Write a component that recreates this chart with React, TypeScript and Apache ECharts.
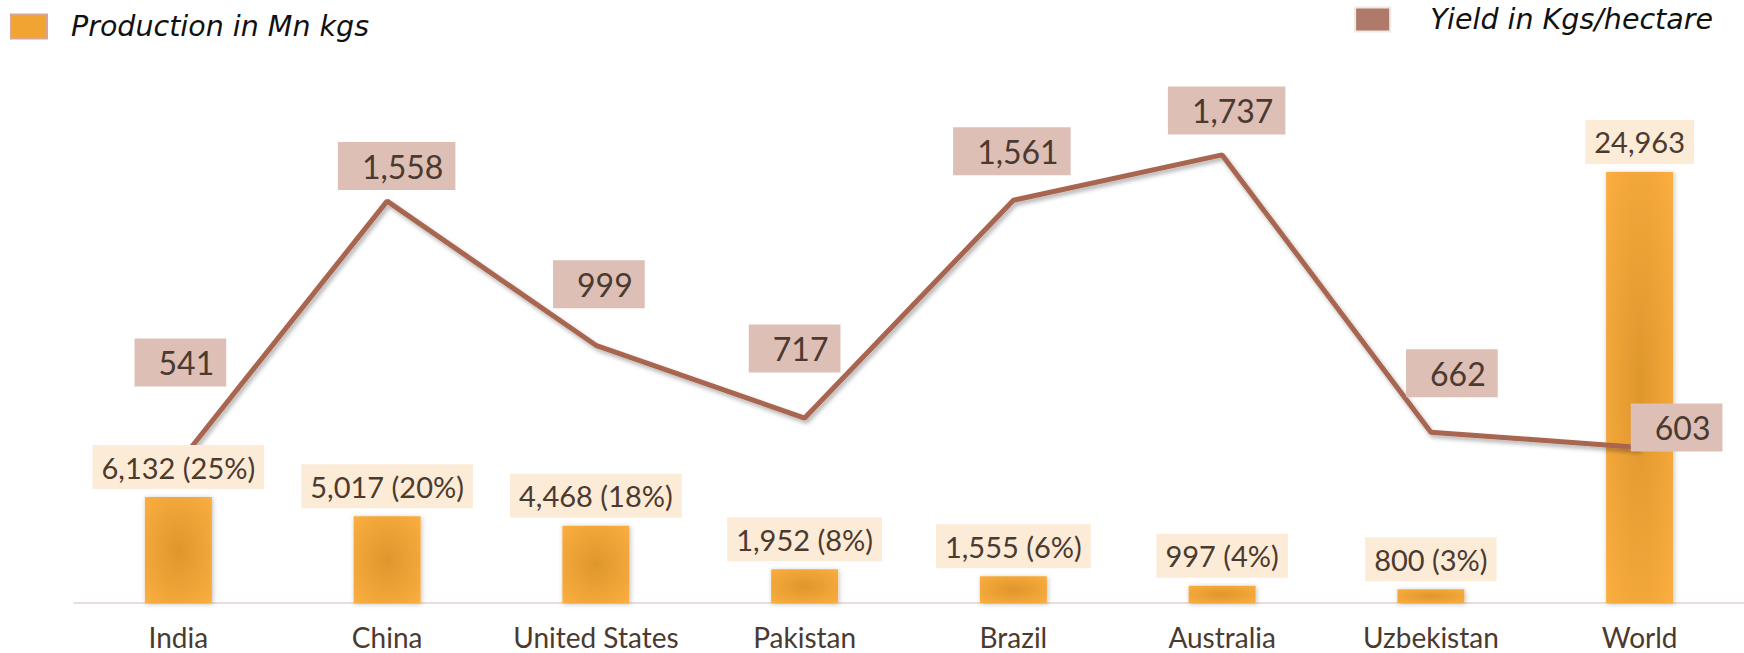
import React, { useEffect, useRef } from "react";
import * as echarts from "echarts";

const categories = ["India", "China", "United States", "Pakistan", "Brazil", "Australia", "Uzbekistan", "World"];
const production = [6132, 5017, 4468, 1952, 1555, 997, 800, 24963];
const productionShare: (number | null)[] = [25, 20, 18, 8, 6, 4, 3, null];
const yieldValues = [541, 1558, 999, 717, 1561, 1737, 662, 603];

const PROD_NAME = "Production in Mn kgs";
const YIELD_NAME = "Yield in Kgs/hectare";

// label placement (style), kept apart from the data
const yieldLabelOffsets = [
  [2, -101], [9.5, -35], [3, -61], [-10, -69.5], [-1.5, -49], [4.5, -44.5], [21, -59], [37, -20],
];

const FONT = "Lato";
const LEGEND_FONT = "DejaVu Sans";
const TEXT = "#4B3A2F";
const fmt = (v: number) => v.toLocaleString("en-US");

export default function App() {
  const ref = useRef<HTMLDivElement>(null);
  useEffect(() => {
    if (!ref.current) return;
    const chart = echarts.init(ref.current, null, { renderer: "svg" });
    const barGradient = new echarts.graphic.RadialGradient(0.5, 0.5, 0.75, [
      { offset: 0, color: "#DF962B" },
      { offset: 1, color: "#FDB042" },
    ]);
    chart.setOption({
      animation: false,
      backgroundColor: "#ffffff",
      textStyle: { fontFamily: FONT },
      legend: [
        {
          data: [{ name: PROD_NAME, itemStyle: { color: "#F2A432", borderColor: "#D9A592", borderWidth: 2 } }],
          left: 10,
          top: 12,
          padding: 0,
          icon: "rect",
          itemWidth: 36,
          itemHeight: 24,
          selectedMode: false,
          textStyle: { fontFamily: LEGEND_FONT, fontStyle: "italic", fontSize: 28.5, color: "#111", padding: [0, 0, 0, 19] },
        },
        {
          data: [{ name: YIELD_NAME, itemStyle: { color: "#B07A6A", borderColor: "#EEE9E3", borderWidth: 2 } }],
          right: 31,
          top: 5,
          padding: 0,
          icon: "rect",
          itemWidth: 35,
          itemHeight: 24,
          selectedMode: false,
          textStyle: { fontFamily: LEGEND_FONT, fontStyle: "italic", fontSize: 28.5, color: "#111", padding: [0, 0, 0, 35] },
        },
      ],
      grid: { left: 74, top: 85, width: 1672, height: 518, containLabel: false },
      xAxis: {
        type: "category",
        data: categories,
        boundaryGap: true,
        axisLine: { show: true, lineStyle: { color: "#E8DEDB", width: 2 } },
        axisTick: { show: false },
        axisLabel: { color: TEXT, fontSize: 28, fontFamily: FONT, margin: 20, interval: 0 },
      },
      yAxis: [
        { type: "value", min: 0, max: 30000, show: false, splitLine: { show: false } },
        { type: "value", min: 0, max: 2008, show: false, splitLine: { show: false } },
      ],
      series: [
        {
          name: PROD_NAME,
          type: "bar",
          data: production,
          barWidth: 67,
          z: 1,
          itemStyle: {
            color: barGradient,
            shadowColor: "rgba(0,0,0,0.25)",
            shadowBlur: 5,
            shadowOffsetX: 1,
            shadowOffsetY: 1,
          },
        },
        {
          name: YIELD_NAME,
          type: "line",
          yAxisIndex: 1,
          data: yieldValues.map((v, i) => ({
            value: v,
            label: { offset: yieldLabelOffsets[i] },
          })),
          z: 2,
          symbol: "circle",
          symbolSize: 0.1,
          showSymbol: true,
          itemStyle: { color: "#A8654F" },
          lineStyle: {
            color: "#A8654F",
            width: 5,
            shadowColor: "rgba(0,0,0,0.3)",
            shadowBlur: 4,
            shadowOffsetX: 2,
            shadowOffsetY: 3,
          },
          label: {
            show: true,
            position: "inside",
            formatter: (p: any) => fmt(p.value),
            color: TEXT,
            fontFamily: FONT,
            fontSize: 32,
            lineHeight: 36,
            backgroundColor: "#DDBFB5",
            padding: [6, 12, 6, 24],
          },
        },
        {
          name: "bar-labels",
          type: "bar",
          data: production,
          barWidth: 67,
          barGap: "-100%",
          z: 3,
          silent: true,
          itemStyle: { color: "rgba(0,0,0,0)" },
          label: {
            show: true,
            position: "top",
            distance: 8,
            formatter: (p: any) => {
              const s = productionShare[p.dataIndex];
              return s == null ? fmt(p.value) : `${fmt(p.value)} (${s}%)`;
            },
            color: TEXT,
            fontFamily: FONT,
            fontSize: 29,
            lineHeight: 34,
            backgroundColor: "#FCEBD7",
            padding: [5, 9, 5, 9],
          },
        },
      ],
    });
    return () => chart.dispose();
  }, []);
  return <div ref={ref} style={{ position: "absolute", left: 0, top: 0, width: 1744, height: 653 }} />;
}
